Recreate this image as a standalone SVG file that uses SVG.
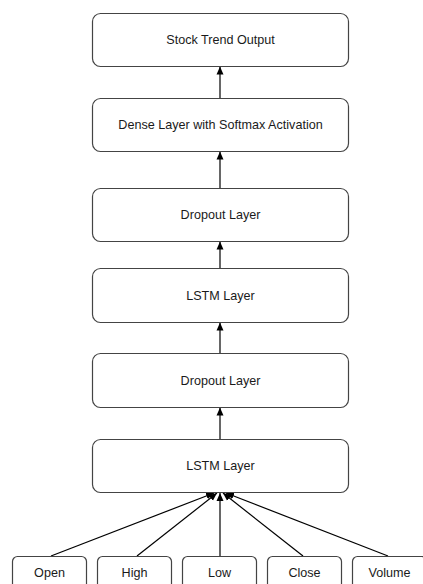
<svg xmlns="http://www.w3.org/2000/svg" width="423" height="584" viewBox="0 0 423 584">
  <style>
    .box { fill: #ffffff; stroke: #444444; stroke-width: 1.2; }
    .lbl { font-family: "Liberation Sans", Arial, sans-serif; font-size: 12.6px; fill: #1a1a1a; text-anchor: middle; dominant-baseline: central; }
    .edge { stroke: #000000; stroke-width: 1.2; fill: none; marker-end: url(#arrow); }
  </style>
  <defs>
    <marker id="arrow" viewBox="0 0 8 8" refX="8" refY="4" markerWidth="8" markerHeight="8" markerUnits="userSpaceOnUse" orient="auto">
      <path d="M0,0.5 L8,4 L0,7.5 Z" fill="#000000"/>
    </marker>
  </defs>
  <rect width="423" height="584" fill="#ffffff"/>

  <g id="connectors">
    <line class="edge" x1="220" y1="98" x2="220" y2="66.5"/>
    <line class="edge" x1="220" y1="188" x2="220" y2="151.5"/>
    <line class="edge" x1="220" y1="268" x2="220" y2="241.5"/>
    <line class="edge" x1="220" y1="353" x2="220" y2="322.5"/>
    <line class="edge" x1="220" y1="439" x2="220" y2="407.5"/>
    <line class="edge" x1="51" y1="556" x2="214" y2="493"/>
    <line class="edge" x1="137" y1="556" x2="217" y2="493"/>
    <line class="edge" x1="220" y1="556" x2="220" y2="493"/>
    <line class="edge" x1="303" y1="556" x2="223" y2="493"/>
    <line class="edge" x1="388" y1="556" x2="226" y2="493"/>
  </g>

  <g id="stock-trend-output">
    <rect class="box" x="92.5" y="13.5" width="256" height="53" rx="8"/>
    <text class="lbl" x="220.5" y="40">Stock Trend Output</text>
  </g>
  <g id="dense-softmax">
    <rect class="box" x="92.5" y="98.5" width="256" height="53" rx="8"/>
    <text class="lbl" x="220.5" y="125">Dense Layer with Softmax Activation</text>
  </g>
  <g id="dropout-2">
    <rect class="box" x="92.5" y="188.5" width="256" height="53" rx="8"/>
    <text class="lbl" x="220.5" y="215">Dropout Layer</text>
  </g>
  <g id="lstm-2">
    <rect class="box" x="92.5" y="268.5" width="256" height="54" rx="8"/>
    <text class="lbl" x="220.5" y="295.5">LSTM Layer</text>
  </g>
  <g id="dropout-1">
    <rect class="box" x="92.5" y="353.5" width="256" height="54" rx="8"/>
    <text class="lbl" x="220.5" y="380.5">Dropout Layer</text>
  </g>
  <g id="lstm-1">
    <rect class="box" x="92.5" y="439.5" width="256" height="53" rx="8"/>
    <text class="lbl" x="220.5" y="466">LSTM Layer</text>
  </g>

  <g id="input-open">
    <rect class="box" x="12.5" y="556.5" width="74" height="40" rx="5"/>
    <text class="lbl" x="49.5" y="572.5">Open</text>
  </g>
  <g id="input-high">
    <rect class="box" x="97.5" y="556.5" width="74" height="40" rx="5"/>
    <text class="lbl" x="134.5" y="572.5">High</text>
  </g>
  <g id="input-low">
    <rect class="box" x="182.5" y="556.5" width="74" height="40" rx="5"/>
    <text class="lbl" x="219.5" y="572.5">Low</text>
  </g>
  <g id="input-close">
    <rect class="box" x="267.5" y="556.5" width="74" height="40" rx="5"/>
    <text class="lbl" x="304.5" y="572.5">Close</text>
  </g>
  <g id="input-volume">
    <rect class="box" x="352.5" y="556.5" width="74" height="40" rx="5"/>
    <text class="lbl" x="389.5" y="572.5">Volume</text>
  </g>
</svg>
